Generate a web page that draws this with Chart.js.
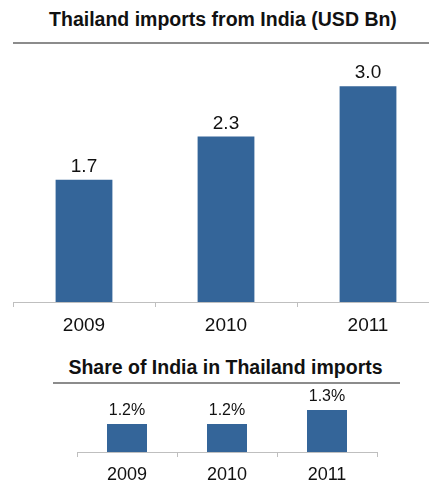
<!DOCTYPE html>
<html>
<head>
<meta charset="utf-8">
<script src="https://cdn.jsdelivr.net/npm/chart.js@4"></script>
<style>
  html, body { margin: 0; padding: 0; background: #fff; overflow: hidden; }
  body { width: 429px; height: 481px; position: relative; font-family: "Liberation Sans", Arial, sans-serif; }
  .title { position: absolute; font-weight: bold; font-size: 19.5px; color: #111; text-align: center; white-space: nowrap; }
  .rule { position: absolute; height: 2px; background: #8c8c8c; }
  canvas { position: absolute; left: 0; }
</style>
</head>
<body>
<div class="title" style="left:0; width:446px; top:8px;">Thailand imports from India (USD Bn)</div>
<div class="rule" style="left:13px; width:430px; top:42px;"></div>
<canvas id="importsChart" width="446" height="340" style="top:0;"></canvas>

<div class="title" style="left:0; width:451px; top:356px;">Share of India in Thailand imports</div>
<div class="rule" style="left:53px; width:347px; top:382px;"></div>
<canvas id="shareChart" width="429" height="141" style="top:340px;"></canvas>

<script>
const years = ['2009', '2010', '2011'];
const importsUsdBn = [1.7, 2.3, 3.0];
const indiaSharePct = [1.2, 1.2, 1.3];

const FONT = '"Liberation Sans", Arial, sans-serif';
const BAR_BLUE = '#346599';
const AXIS_GREY = '#bfbfbf';

// draws the value above each bar
function valueLabels(size, gap, suffix) {
    return {
        id: 'valueLabels',
        afterDatasetsDraw(chart) {
            const ctx = chart.ctx;
            const meta = chart.getDatasetMeta(0);
            const values = chart.data.datasets[0].data;
            ctx.save();
            ctx.font = size + 'px ' + FONT;
            ctx.fillStyle = '#111';
            ctx.textAlign = 'center';
            ctx.textBaseline = 'alphabetic';
            meta.data.forEach((bar, i) => {
                ctx.fillText(values[i].toFixed(1) + suffix, bar.x, bar.y - gap);
            });
            ctx.restore();
        }
    };
}

function xAxis(fontSize, height) {
    return {
        offset: true,
        grid: { display: true, drawOnChartArea: false, drawTicks: true, tickLength: 5, color: AXIS_GREY, offset: true },
        border: { display: true, color: AXIS_GREY, width: 1 },
        ticks: { font: { family: FONT, size: fontSize }, color: '#111', padding: 7 },
        afterFit: scale => { scale.height = height; }
    };
}

// Imports chart
new Chart(document.getElementById('importsChart'), {
    type: 'bar',
    data: {
        labels: years,
        datasets: [{
            data: importsUsdBn,
            backgroundColor: BAR_BLUE,
            categoryPercentage: 1,
            barPercentage: 0.4
        }]
    },
    options: {
        responsive: false,
        animation: false,
        devicePixelRatio: 1,
        layout: { padding: { left: 13, right: 7, top: 43, bottom: 0 } },
        scales: {
            x: xAxis(19, 38),
            y: { display: false, min: 0, max: 3.6 }
        },
        plugins: { legend: { display: false }, tooltip: { enabled: false } }
    },
    plugins: [valueLabels(19, 8, '')]
});

// Share chart
new Chart(document.getElementById('shareChart'), {
    type: 'bar',
    data: {
        labels: years,
        datasets: [{
            data: indiaSharePct,
            backgroundColor: BAR_BLUE,
            categoryPercentage: 1,
            barPercentage: 0.4
        }]
    },
    options: {
        responsive: false,
        animation: false,
        devicePixelRatio: 1,
        layout: { padding: { left: 77, right: 52, top: 42, bottom: 0 } },
        scales: {
            x: xAxis(18, 29),
            y: { display: false, min: 1.0, max: 1.5 }
        },
        plugins: { legend: { display: false }, tooltip: { enabled: false } }
    },
    plugins: [valueLabels(16, 9, '%')]
});
</script>
</body>
</html>
